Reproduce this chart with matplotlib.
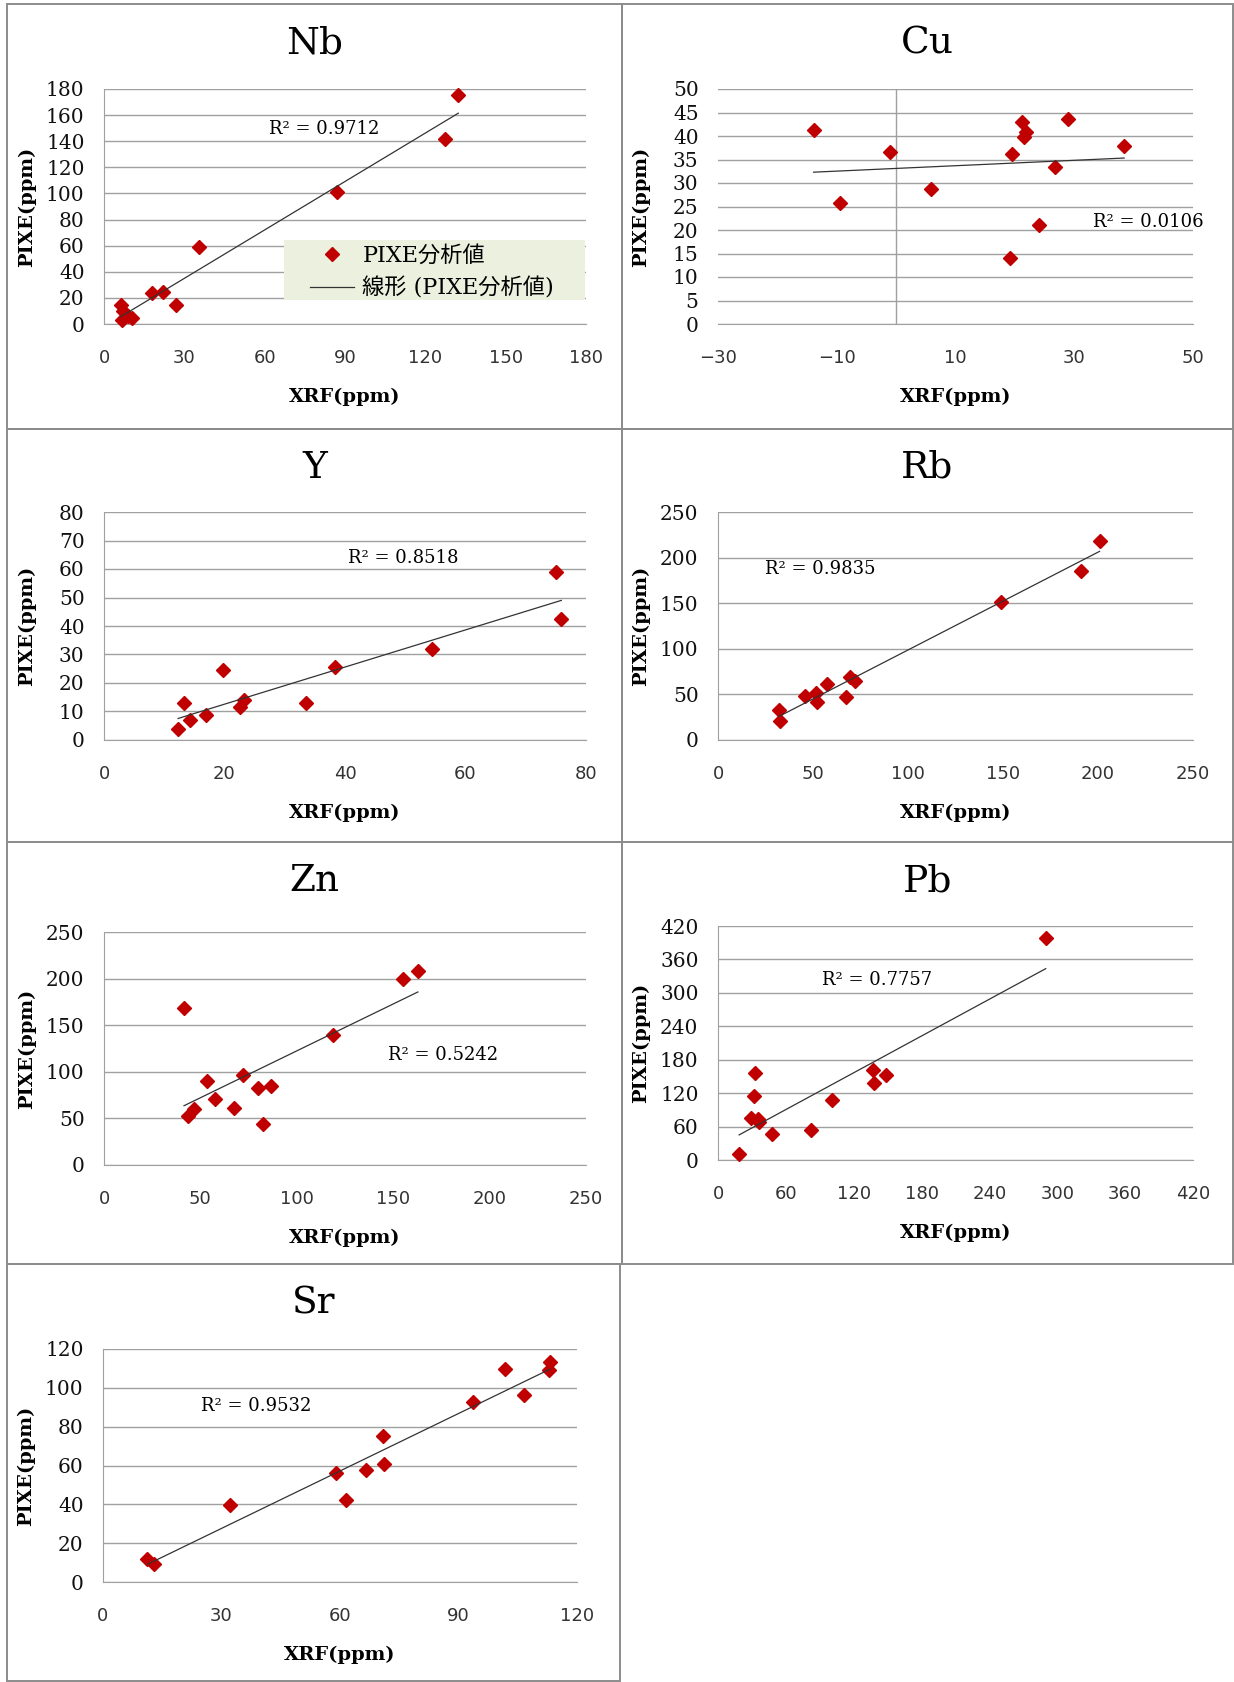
import numpy as np
import matplotlib.pyplot as plt
from matplotlib.patches import Rectangle

# values (XRF on x, PIXE on y), ppm
nb_xrf = [132.3, 127.4, 86.9, 35.5, 18.1, 21.9, 26.9, 6.3, 7.0, 6.8, 9.0, 10.5]
nb_pixe = [175.7, 141.9, 101.4, 58.7, 23.6, 24.4, 14.8, 14.6, 10.0, 3.0, 6.0, 4.5]

cu_xrf = [-13.9, -9.4, -1.0, 5.8, 19.5, 19.2, 21.2, 21.8, 21.6, 24.0, 26.8, 29.0, 38.4]
cu_pixe = [41.3, 25.7, 36.6, 28.7, 36.2, 14.1, 42.9, 40.9, 39.7, 21.0, 33.3, 43.7, 37.9]

y_xrf = [75.1, 75.9, 54.4, 38.3, 33.6, 19.8, 23.2, 22.5, 16.9, 14.3, 13.3, 12.3]
y_pixe = [58.9, 42.3, 31.8, 25.7, 12.9, 24.7, 14.2, 11.6, 8.9, 7.1, 13.0, 3.7]

rb_xrf = [200.8, 190.9, 149.2, 69.4, 71.9, 67.6, 57.6, 51.7, 52.1, 45.7, 32.0, 32.4]
rb_pixe = [218.6, 185.7, 151.7, 69.4, 65.1, 46.8, 61.0, 51.2, 41.7, 47.9, 32.5, 21.2]

zn_xrf = [162.8, 155.2, 119.0, 41.5, 72.2, 53.2, 80.0, 86.8, 57.7, 67.5, 82.7, 46.8, 43.5]
zn_pixe = [207.9, 200.1, 139.4, 168.0, 97.0, 90.6, 83.1, 85.2, 71.0, 61.3, 44.2, 59.6, 52.1]

pb_xrf = [289.8, 136.8, 137.5, 148.2, 100.7, 82.6, 47.6, 18.7, 33.0, 31.9, 29.2, 35.4, 36.0]
pb_pixe = [399.0, 162.0, 138.0, 153.0, 108.0, 54.0, 46.0, 11.4, 155.4, 115.2, 75.0, 74.4, 68.0]

sr_xrf = [113.2, 112.8, 101.8, 106.5, 93.7, 70.8, 71.2, 66.6, 59.0, 61.5, 32.2, 11.2, 12.8]
sr_pixe = [113.1, 109.4, 109.9, 96.2, 92.7, 75.4, 61.0, 57.9, 56.1, 42.0, 39.8, 12.0, 9.4]

elements = ['Nb', 'Cu', 'Y', 'Rb', 'Zn', 'Pb', 'Sr']
r2_labels = ['R² = 0.9712', 'R² = 0.0106', 'R² = 0.8518', 'R² = 0.9835',
             'R² = 0.5242', 'R² = 0.7757', 'R² = 0.9532']
x_ticks = [(0, 180, 30), (-30, 50, 20), (0, 80, 20), (0, 250, 50),
           (0, 250, 50), (0, 420, 60), (0, 120, 30)]
y_ticks = [(0, 180, 20), (0, 50, 5), (0, 80, 10), (0, 250, 50),
           (0, 250, 50), (0, 420, 60), (0, 120, 20)]
series = [(nb_xrf, nb_pixe), (cu_xrf, cu_pixe), (y_xrf, y_pixe), (rb_xrf, rb_pixe),
          (zn_xrf, zn_pixe), (pb_xrf, pb_pixe), (sr_xrf, sr_pixe)]

W, H = 1234, 1682
SERIF = ['DejaVu Serif', 'Noto Sans CJK JP']
RED = '#C00000'
GRID = '#A0A0A0'
BORDER = '#8C8C8C'

# layout in pixels: panel frame, plot box, R2 text (axes fraction)
panels = [(7, 4, 622, 429), (622, 4, 1233, 429),
          (7, 429, 622, 842), (622, 429, 1233, 842),
          (7, 842, 622, 1264), (622, 842, 1233, 1264),
          (7, 1264, 620, 1681)]
boxes = [(104, 89, 586, 324), (718, 89, 1193, 324),
         (104, 512, 586, 740), (718, 512, 1193, 740),
         (104, 932, 586, 1165), (718, 926, 1193, 1160),
         (103, 1349, 577, 1582)]
r2_pos = [(0.342, 0.83), (0.79, 0.434), (0.506, 0.80), (0.099, 0.75),
          (0.59, 0.472), (0.219, 0.77), (0.207, 0.755)]

fig = plt.figure(figsize=(W / 100, H / 100), dpi=100)
fig.patch.set_facecolor('white')


def fx(x):
    return x / W


def fy(y):
    return 1 - y / H


for i, name in enumerate(elements):
    pl, pt, pr, pb = panels[i]
    l, t, r, b = boxes[i]
    xs, ys = np.array(series[i][0]), np.array(series[i][1])

    # panel frame
    fig.add_artist(Rectangle((fx(pl), fy(pb)), (pr - pl) / W, (pb - pt) / H,
                             transform=fig.transFigure, fill=False,
                             edgecolor=BORDER, linewidth=1.4))

    ax = fig.add_axes([fx(l), fy(b), (r - l) / W, (b - t) / H])
    x0, x1, dx = x_ticks[i]
    y0, y1, dy = y_ticks[i]
    ax.set_xlim(x0, x1)
    ax.set_ylim(y0, y1)
    ax.set_xticks(np.arange(x0, x1 + dx / 2, dx))
    ax.set_yticks(np.arange(y0, y1 + dy / 2, dy))
    ax.set_facecolor('none')

    for s in ['top', 'right']:
        ax.spines[s].set_visible(False)
    ax.spines['bottom'].set_color(GRID)
    ax.spines['left'].set_color(GRID)
    if x0 < 0:
        ax.spines['left'].set_visible(False)
        ax.axvline(0, color=GRID, lw=1.0, zorder=1)
    ax.yaxis.grid(True, color=GRID, lw=1.0, zorder=0)
    ax.set_axisbelow(True)

    ax.tick_params(axis='both', length=0)
    ax.tick_params(axis='x', pad=18, labelsize=13, labelcolor='#333333')
    ax.tick_params(axis='y', pad=14, labelsize=14.5, labelcolor='#111111')
    for lab in ax.get_yticklabels():
        lab.set_family(SERIF)
    for lab in ax.get_xticklabels():
        lab.set_family('DejaVu Sans')

    ax.plot(xs, ys, linestyle='none', marker='D', ms=7.5, color=RED,
            mec=RED, zorder=3, clip_on=False, label='PIXE分析値')
    k, c = np.polyfit(xs, ys, 1)
    xl = np.array([xs.min(), xs.max()])
    ax.plot(xl, k * xl + c, color='#333333', lw=0.9, zorder=4,
            label='線形 (PIXE分析値)')

    ax.text(r2_pos[i][0], r2_pos[i][1], r2_labels[i], transform=ax.transAxes,
            ha='left', va='center', fontsize=13, family=SERIF)

    # titles and axis labels
    fig.text(fx((pl + pr) / 2), fy(pt + 39), name, ha='center', va='center',
             fontsize=27, family=SERIF)
    fig.text(fx((l + r) / 2), fy(b + 73), 'XRF(ppm)', ha='center', va='center',
             fontsize=14, family=SERIF, fontweight='bold')
    fig.text(fx(l - 77), fy((t + b) / 2), 'PIXE(ppm)', ha='center', va='center',
             rotation=90, fontsize=14, family=SERIF, fontweight='bold')

    if name == 'Nb':
        ax.add_patch(Rectangle((0.373, 0.102), 0.625, 0.255, transform=ax.transAxes,
                               facecolor='#EBF1DE', edgecolor='none', zorder=2))
        leg = ax.legend(loc='upper left', bbox_to_anchor=(0.427, 0.335),
                        frameon=False, borderpad=0, borderaxespad=0,
                        handlelength=2.0, handletextpad=0.36, labelspacing=0.45,
                        prop={'family': SERIF, 'size': 16})
        leg.set_zorder(5)

fig.savefig('out.png', dpi=100, facecolor='white')
